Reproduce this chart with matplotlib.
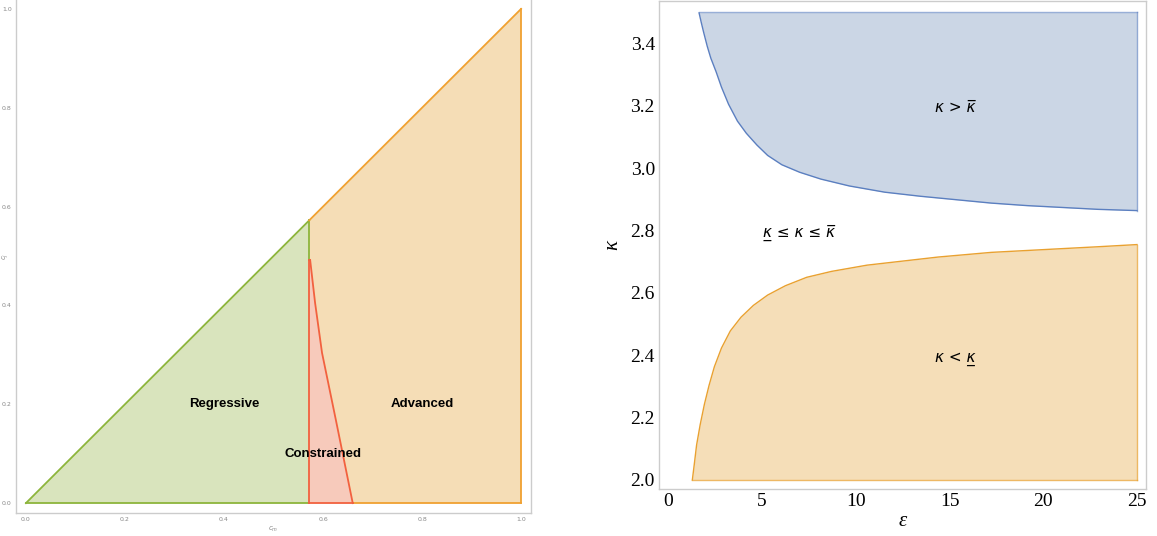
import matplotlib
matplotlib.use("Agg")
import matplotlib.pyplot as plt
import numpy as np

# ---------------- data: left panel ----------------
diag_break = 0.572                      # where the green/orange boundary sits
constr_x = [0.574, 0.584, 0.598, 0.626, 0.660]   # red curve (x)
constr_y = [0.492, 0.405, 0.304, 0.168, 0.000]   # red curve (y)
left_labels = ["Regressive", "Constrained", "Advanced"]
left_label_x = [0.40, 0.60, 0.80]
left_label_y = [0.20, 0.10, 0.20]
left_ticks = [0.0, 0.2, 0.4, 0.6, 0.8, 1.0]

# ---------------- data: right panel ----------------
upper_eps = [1.648, 1.761, 1.894, 2.083, 2.273, 2.557, 2.841, 3.220, 3.693, 4.167, 4.735,
             5.303, 6.061, 7.008, 8.144, 9.659, 11.553, 13.447, 15.341, 17.235, 19.129,
             21.023, 22.917, 25.0]
upper_kap = [3.498, 3.468, 3.435, 3.391, 3.353, 3.309, 3.260, 3.205, 3.151, 3.112, 3.074,
             3.041, 3.011, 2.987, 2.965, 2.943, 2.923, 2.910, 2.899, 2.888, 2.880,
             2.874, 2.868, 2.864]
lower_eps = [1.288, 1.383, 1.515, 1.705, 1.932, 2.178, 2.462, 2.841, 3.314, 3.883, 4.545,
             5.303, 6.250, 7.386, 8.712, 10.606, 12.500, 14.394, 17.235, 20.076, 22.917, 25.0]
lower_kap = [2.000, 2.046, 2.112, 2.177, 2.243, 2.303, 2.363, 2.423, 2.478, 2.522, 2.560,
             2.593, 2.623, 2.650, 2.669, 2.689, 2.702, 2.715, 2.730, 2.739, 2.748, 2.755]
kap_top = 3.5
kap_bottom = 2.0
right_xticks = [0, 5, 10, 15, 20, 25]
right_yticks = [2.0, 2.2, 2.4, 2.6, 2.8, 3.0, 3.2, 3.4]
region_labels = ["κ > κ\u0305", "κ\u0332 ≤ κ ≤ κ\u0305", "κ < κ\u0332"]
region_label_x = [15.3, 7.0, 15.3]
region_label_y = [3.194, 2.794, 2.39]

fig = plt.figure(figsize=(11.57, 5.36), dpi=100)

# ================= left panel =================
ax1 = fig.add_axes([16/1157, 23/536, 515/1157, 514/536])
green_fill, green_edge = "#d9e4bd", "#8db53c"
orange_fill, orange_edge = "#f5ddb6", "#f0a131"
red_fill, red_edge = "#f7cabb", "#f2613f"

ax1.fill([0, diag_break, diag_break, 0], [0, diag_break, 0, 0], color=green_fill, lw=0)
ax1.fill([diag_break, 1.0, 1.0, diag_break], [diag_break, 1.0, 0.0, 0.0], color=orange_fill, lw=0)
cx = [diag_break] + constr_x + [diag_break]
cy = [constr_y[0]] + constr_y + [0.0]
ax1.fill(cx, cy, color=red_fill, lw=0)

ax1.plot([0, diag_break], [0, diag_break], color=green_edge, lw=1.3)
ax1.plot([0, diag_break], [0, 0], color=green_edge, lw=1.3)
ax1.plot([diag_break, diag_break], [constr_y[0], diag_break], color=green_edge, lw=1.3)
ax1.plot([diag_break, 1.0], [diag_break, 1.0], color=orange_edge, lw=1.3)
ax1.plot([1.0, 1.0], [0, 1.0], color=orange_edge, lw=1.3)
ax1.plot([constr_x[-1], 1.0], [0, 0], color=orange_edge, lw=1.3)
ax1.plot([diag_break, diag_break], [0, constr_y[0]], color=red_edge, lw=1.3)
ax1.plot(constr_x, constr_y, color=red_edge, lw=1.3)
ax1.plot([diag_break, constr_x[-1]], [0, 0], color=red_edge, lw=1.3)

for t, x, y in zip(left_labels, left_label_x, left_label_y):
    ax1.text(x, y, t, ha="center", va="center", fontsize=9.5, fontweight="bold",
             family="Liberation Sans", color="black")

ax1.set_xlim(-0.02, 1.02)
ax1.set_ylim(-0.02, 1.02)
ax1.set_xticks(left_ticks)
ax1.set_yticks(left_ticks)
ax1.set_xticklabels([f"{t:.1f}" for t in left_ticks])
ax1.set_yticklabels([f"{t:.1f}" for t in left_ticks])
ax1.tick_params(length=0, labelsize=4.5, colors="#888888", pad=3)
ax1.set_xlabel("$c_m$", fontsize=5, color="#888888", labelpad=2)
ax1.set_ylabel("$c_j$", fontsize=5, color="#888888", va="center", ha="center")
ax1.yaxis.set_label_coords(-0.019, 0.5)
for s in ["left", "bottom", "right"]:
    ax1.spines[s].set_color("#cccccc")
    ax1.spines[s].set_linewidth(1.0)
ax1.spines["top"].set_visible(False)

# ================= right panel =================
ax2 = fig.add_axes([659/1157, 46.7/536, 487/1157, 487.9/536])
blue_fill, blue_edge = "#cbd6e5", "#5b7fc0"
or_fill, or_edge = "#f5deb8", "#e9a130"

ue = np.array(upper_eps); uk = np.array(upper_kap)
ax2.fill_between(ue, uk, kap_top, color=blue_fill, lw=0)
ax2.plot(ue, uk, color=blue_edge, lw=1.0)
ax2.plot([ue[0], ue[-1]], [kap_top, kap_top], color=blue_edge, lw=1.0, alpha=0.6)
ax2.plot([ue[-1], ue[-1]], [uk[-1], kap_top], color=blue_edge, lw=1.0, alpha=0.6)

le = np.array(lower_eps); lk = np.array(lower_kap)
ax2.fill_between(le, kap_bottom, lk, color=or_fill, lw=0)
ax2.plot(le, lk, color=or_edge, lw=1.0)
ax2.plot([le[0], le[-1]], [kap_bottom, kap_bottom], color=or_edge, lw=1.0, alpha=0.7)
ax2.plot([le[-1], le[-1]], [kap_bottom, lk[-1]], color=or_edge, lw=1.0, alpha=0.7)

for t, x, y in zip(region_labels, region_label_x, region_label_y):
    ax2.text(x, y, t, ha="center", va="center", fontsize=11, family="DejaVu Sans",
             style="italic", color="black")

ax2.set_xlim(-0.49, 25.48)
ax2.set_ylim(1.970, 3.535)
ax2.set_xticks(right_xticks)
ax2.set_yticks(right_yticks)
ax2.set_yticklabels([f"{t:.1f}" for t in right_yticks])
ax2.tick_params(length=0, labelsize=14, pad=3)
for lab in ax2.get_xticklabels() + ax2.get_yticklabels():
    lab.set_family("Liberation Serif")
ax2.set_xlabel("ε", fontsize=15, family="Liberation Serif", style="italic", labelpad=1)
ax2.set_ylabel("κ", fontsize=15, family="Liberation Serif", style="italic", labelpad=6)
for s in ax2.spines.values():
    s.set_color("#cccccc")
    s.set_linewidth(1.0)

fig.savefig("out.png", dpi=100)
